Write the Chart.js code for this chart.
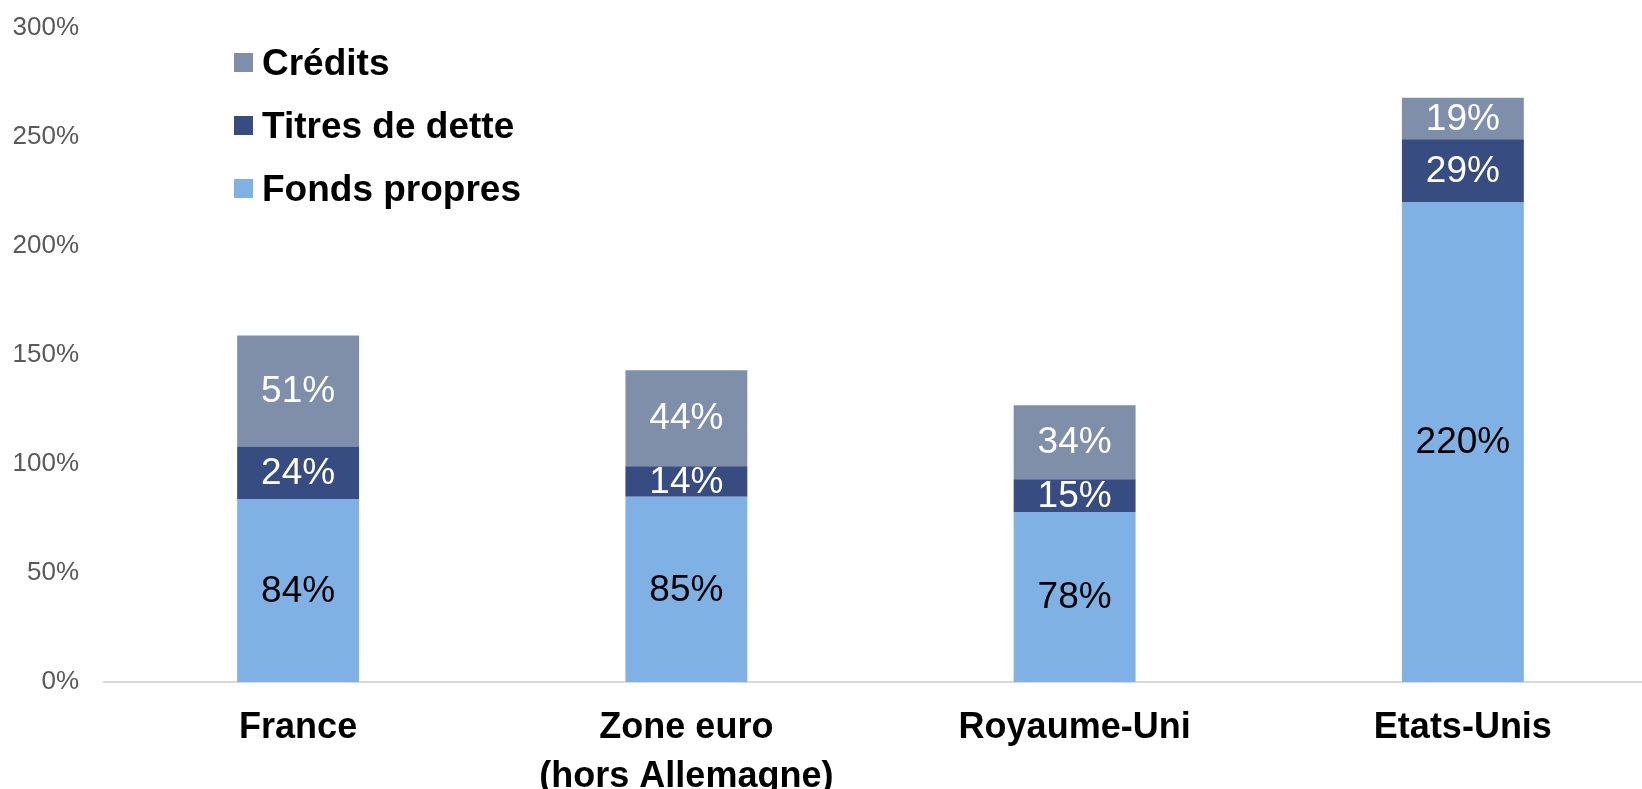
<!DOCTYPE html>
<html>
<head>
<meta charset="utf-8">
<script src="https://cdn.jsdelivr.net/npm/chart.js@4"></script>
<style>
  html, body { margin:0; padding:0; background:#fff; overflow:hidden; }
  #wrap { position:relative; width:1660px; height:789px; }
  .legend { position:absolute; left:234px; top:31px; font-family:"Liberation Sans", Arial, sans-serif; font-weight:bold; font-size:37px; color:#000; }
  .legend div { display:flex; align-items:center; height:63px; }
  .legend span { display:inline-block; width:19px; height:19px; margin-right:9px; }
</style>
</head>
<body>
<div id="wrap">
  <canvas id="c"></canvas>
  <div class="legend">
    <div><span style="background:#7f8faa"></span>Crédits</div>
    <div><span style="background:#374c80"></span>Titres de dette</div>
    <div><span style="background:#7fb1e4"></span>Fonds propres</div>
  </div>
</div>
<script>
const labels = [['France'], ['Zone euro', '(hors Allemagne)'], ['Royaume-Uni'], ['Etats-Unis']];
const fondsPropres = [84, 85, 78, 220];
const titresDette = [24, 14, 15, 29];
const credits = [51, 44, 34, 19];

// labels au centre de chaque segment
const segLabels = {
  id: 'segLabels',
  afterDatasetsDraw(chart) {
    const ctx = chart.ctx;
    ctx.save();
    ctx.font = '37px "Liberation Sans", Arial, sans-serif';
    ctx.textAlign = 'center';
    ctx.textBaseline = 'middle';
    chart.data.datasets.forEach((ds, di) => {
      const meta = chart.getDatasetMeta(di);
      meta.data.forEach((bar, i) => {
        ctx.fillStyle = ds.labelColor;
        ctx.fillText(ds.data[i] + '%', bar.x, (bar.y + bar.base) / 2 + 1);
      });
    });
    ctx.restore();
  }
};

new Chart(document.getElementById('c'), {
  type: 'bar',
  data: {
    labels: labels,
    datasets: [
      { label: 'Fonds propres', data: fondsPropres, backgroundColor: '#7fb1e4', labelColor: '#000' },
      { label: 'Titres de dette', data: titresDette, backgroundColor: '#374c80', labelColor: '#fff' },
      { label: 'Crédits', data: credits, backgroundColor: '#7f8faa', labelColor: '#fff' }
    ]
  },
  options: {
    responsive: true,
    maintainAspectRatio: false,
    animation: false,
    datasets: { bar: { barPercentage: 1, categoryPercentage: 0.314 } },
    layout: { padding: { left: 0, top: 28, right: 3, bottom: 0 } },
    plugins: { legend: { display: false }, tooltip: { enabled: false } },
    scales: {
      x: {
        stacked: true,
        grid: { display: false },
        border: { color: '#d9d9d9', width: 2 },
        afterFit: s => { s.height = 107; },
        ticks: { color: '#000', padding: 14, maxRotation: 0, font: { family: '"Liberation Sans", Arial, sans-serif', size: 36, weight: 'bold', lineHeight: 1.36 } }
      },
      y: {
        stacked: true,
        min: 0, max: 300,
        grid: { display: false, drawTicks: false },
        border: { display: false },
        afterFit: s => { s.width = 104; s.paddingTop = 0; s.paddingBottom = 0; },
        ticks: { stepSize: 50, padding: 25, color: '#595959', font: { family: '"Liberation Sans", Arial, sans-serif', size: 26 }, callback: v => v + '%' }
      }
    }
  },
  plugins: [segLabels]
});
</script>
</body>
</html>
